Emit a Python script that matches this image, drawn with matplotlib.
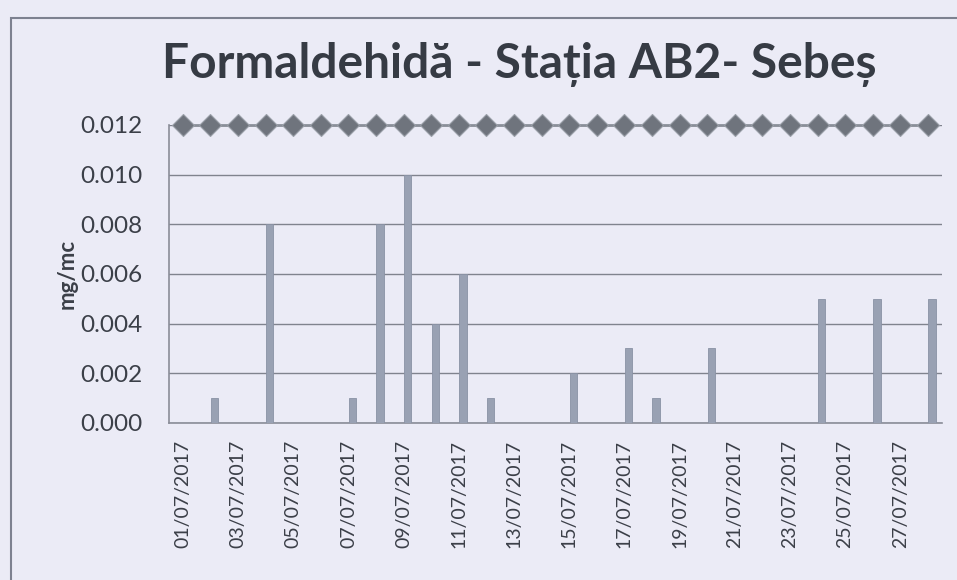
import matplotlib
matplotlib.use("Agg")
import matplotlib.pyplot as plt
import numpy as np
from matplotlib.patches import Rectangle

dates = [f"{d:02d}/07/2017" for d in range(1, 29)]
values = [0, 0.001, 0, 0.008, 0, 0, 0.001, 0.008, 0.010, 0.004, 0.006, 0.001,
          0, 0, 0.002, 0, 0.003, 0.001, 0, 0.003, 0, 0, 0, 0.005, 0, 0.005, 0, 0.005]
limit = [0.012] * 28
yticks = [0.000, 0.002, 0.004, 0.006, 0.008, 0.010, 0.012]

bg = "#ebebf6"
txt = "#3b3f48"
plt.rcParams['font.family'] = ['Lato', 'DejaVu Sans']

fig = plt.figure(figsize=(9.57, 5.80), dpi=100, facecolor=bg)
fig.patches.append(Rectangle((0.011, -0.05), 1.2, 1.03 - 0.011, transform=fig.transFigure,
                             fill=False, edgecolor="#7d8190", linewidth=1.5))
ax = fig.add_axes([0.1766, 0.2707, 0.8074, 0.5138], facecolor=bg)

x = np.arange(len(dates))
ax.bar(x + 0.15, values, width=0.27, color="#99a1b3", edgecolor="#8a92a5", linewidth=0.6, zorder=3)
ax.plot(x, limit, color="#8a8f99", linewidth=2, marker="D", markersize=11.5,
        markerfacecolor="#6f747d", markeredgecolor="#9a9fa8", markeredgewidth=0.8,
        zorder=5, clip_on=False)

ax.set_xlim(-0.5, len(dates) - 0.5)
ax.set_ylim(0, 0.012)
ax.set_yticks(yticks)
ax.set_yticklabels([f"{v:.3f}" for v in yticks], fontsize=17.5, color=txt)
ax.set_xticks(x[::2])
ax.set_xticklabels(dates[::2], rotation=90, fontsize=14, color=txt)
ax.tick_params(axis='y', length=0, pad=19)
ax.tick_params(axis='x', length=0, pad=12)
ax.grid(axis='y', color="#80838e", linewidth=1.0, zorder=1)
for s in ['top', 'right']:
    ax.spines[s].set_visible(False)
for s in ['left', 'bottom']:
    ax.spines[s].set_color("#8a8d98")
    ax.spines[s].set_linewidth(1.2)
ax.set_ylabel("mg/mc", fontsize=16, fontweight='bold', color=txt, labelpad=2)

fig.text(0.543, 0.889, "Formaldehidă - Stația AB2- Sebeș", ha='center', va='center',
         fontsize=34.5, fontweight='bold', color="#363b44")

fig.savefig("out.png", dpi=100, facecolor=bg)
